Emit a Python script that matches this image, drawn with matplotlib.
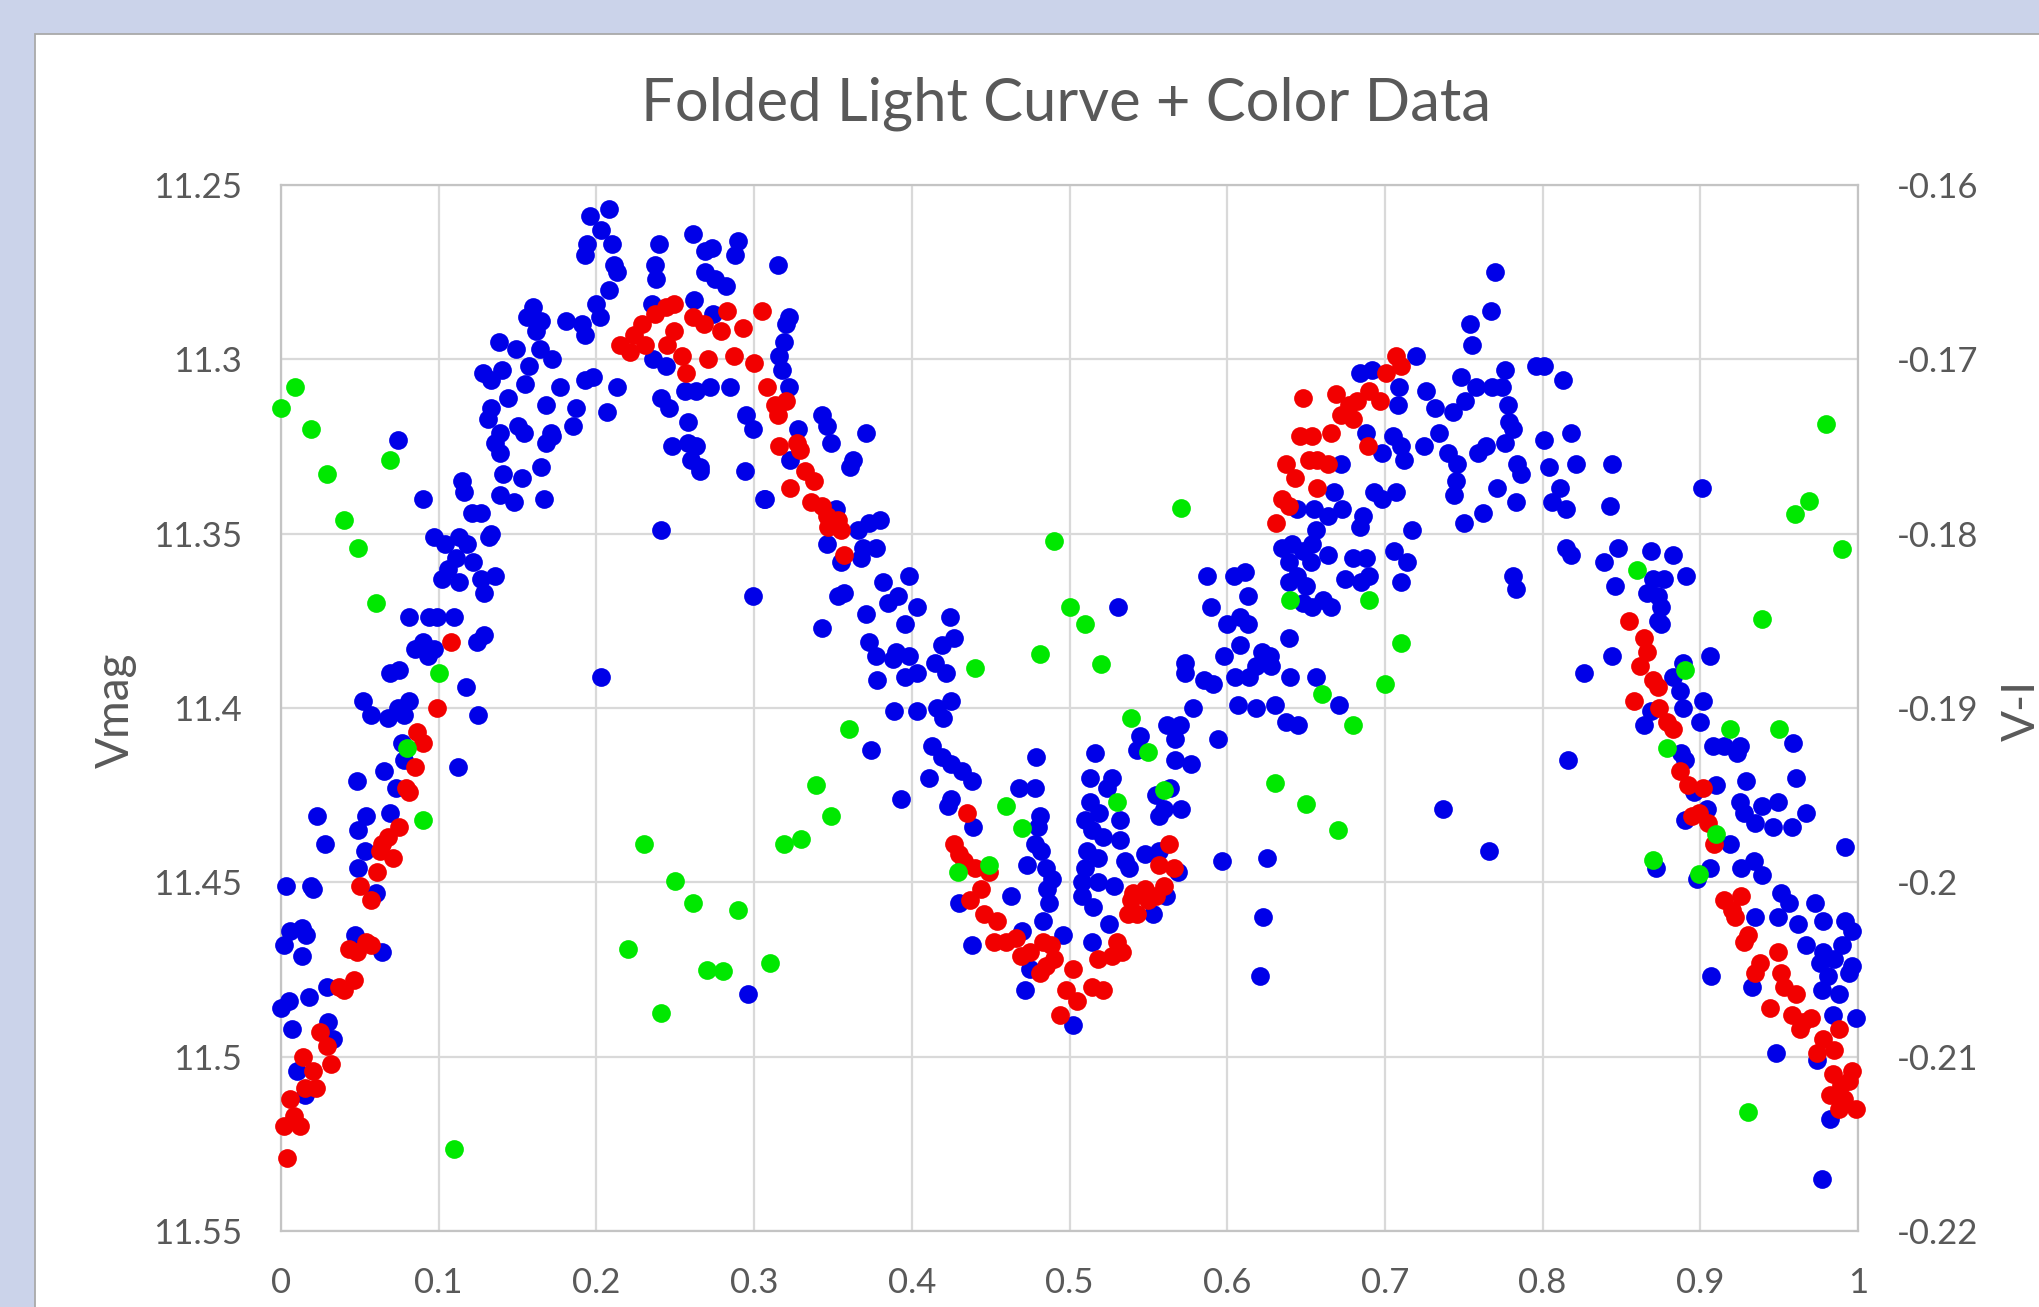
import matplotlib
matplotlib.use("Agg")
import matplotlib.pyplot as plt
from matplotlib.patches import Rectangle

# ---------------- data ----------------
title = "Folded Light Curve + Color Data"
left_label = "Vmag"
right_label = "V-I"

x_ticks = [0.0, 0.1, 0.2, 0.3, 0.4, 0.5, 0.6, 0.7, 0.8, 0.9, 1.0]
x_tick_labels = ["0", "0.1", "0.2", "0.3", "0.4", "0.5", "0.6", "0.7", "0.8", "0.9", "1"]
vmag_ticks = [11.25, 11.30, 11.35, 11.40, 11.45, 11.50, 11.55]
vmag_tick_labels = ["11.25", "11.3", "11.35", "11.4", "11.45", "11.5", "11.55"]
vi_ticks = [-0.22, -0.21, -0.20, -0.19, -0.18, -0.17, -0.16]
vi_tick_labels = ["-0.22", "-0.21", "-0.2", "-0.19", "-0.18", "-0.17", "-0.16"]

# blue series: Vmag vs phase
blue_phase = [
    0.208,0.196,0.203,0.210,0.194,0.193,0.211,0.213,0.208,0.200,
    0.202,0.181,0.191,0.193,0.160,0.156,0.165,0.162,0.164,0.172,
    0.149,0.138,0.157,0.155,0.128,0.140,0.133,0.144,0.133,0.131,
    0.150,0.154,0.139,0.136,0.139,0.168,0.177,0.187,0.185,0.172,
    0.168,0.171,0.165,0.153,0.141,0.139,0.148,0.167,0.193,0.198,
    0.213,0.207,0.240,0.237,0.238,0.235,0.261,0.269,0.273,0.269,
    0.275,0.282,0.290,0.288,0.262,0.274,0.236,0.244,0.241,0.246,
    0.256,0.263,0.272,0.258,0.258,0.263,0.248,0.260,0.266,0.266,
    0.285,0.295,0.299,0.294,0.306,0.241,0.299,0.203,0.074,0.090,
    0.115,0.116,0.121,0.127,0.133,0.132,0.097,0.104,0.113,0.118,
    0.111,0.122,0.102,0.113,0.127,0.136,0.129,0.106,0.081,0.094,
    0.099,0.110,0.090,0.085,0.093,0.097,0.124,0.129,0.069,0.075,
    0.117,
    0.052,0.057,0.068,0.074,0.078,0.081,0.125,0.077,0.078,0.112,
    0.065,0.048,0.073,0.069,0.054,0.049,0.023,0.028,0.053,0.049,
    0.060,0.003,0.019,0.020,0.006,0.013,0.016,0.002,0.013,0.047,
    0.064,0.029,0.018,0.005,0.000,0.030,0.007,0.033,0.010,0.015,
    0.296,
    0.315,0.322,0.320,0.319,0.316,0.318,0.322,0.328,0.323,0.307,
    0.343,0.346,0.349,0.371,0.361,0.363,0.352,0.346,0.355,0.366,
    0.373,0.380,0.369,0.368,0.377,0.353,0.357,0.343,0.371,0.382,
    0.398,0.391,0.385,0.403,0.396,0.373,0.377,0.390,0.398,0.388,
    0.378,0.396,0.403,0.424,0.427,0.419,0.415,0.422,0.531,0.587,
    0.604,0.611,0.613,0.590,0.608,0.613,0.600,0.608,0.598,0.622,
    0.627,0.618,0.573,0.573,0.585,0.591,0.605,0.614,0.628,0.640,
    0.639,0.656,0.635,0.641,0.648,0.654,0.656,0.653,0.639,0.644,
    0.639,0.650,0.654,0.648,0.644,0.655,
    0.389,0.403,0.416,0.420,0.425,0.374,0.413,0.419,0.425,0.432,
    0.438,0.411,0.393,0.425,0.423,0.439,0.479,0.468,0.478,0.481,
    0.480,0.478,0.482,0.473,0.485,0.489,0.486,0.487,0.483,0.470,
    0.496,0.463,0.430,0.438,0.472,0.475,0.502,0.516,0.513,0.527,
    0.524,0.513,0.519,0.532,0.510,0.514,0.521,0.532,0.511,0.518,
    0.535,0.538,0.510,0.508,0.518,0.528,0.508,0.515,0.525,0.514,
    0.548,0.557,0.569,0.553,0.561,0.545,0.543,0.562,0.570,0.567,
    0.567,0.577,0.555,0.560,0.571,0.557,0.564,0.578,0.594,0.597,
    0.607,0.618,0.630,0.637,0.645,0.625,0.623,0.621,
    0.770,0.767,0.754,0.755,0.720,0.776,0.796,0.801,0.813,0.748,
    0.758,0.768,0.774,0.726,0.684,0.692,0.709,0.708,0.732,0.743,
    0.751,0.778,0.779,0.781,0.776,0.764,0.759,0.734,0.725,0.740,
    0.746,0.745,0.744,0.688,0.698,0.705,0.710,0.712,0.784,0.786,
    0.801,0.818,0.804,0.821,0.844,0.771,0.783,0.762,0.750,0.811,
    0.806,0.815,0.843,0.901,0.672,0.668,0.673,0.664,0.693,0.698,
    0.707,0.686,0.684,0.717,0.664,0.680,0.688,0.706,0.714,0.675,
    0.685,0.690,0.710,0.661,0.666,0.781,0.783,0.815,0.818,0.839,
    0.848,0.869,0.883,0.846,0.891,0.870,0.877,0.866,0.873,0.875,
    0.873,0.875,0.844,0.826,0.906,0.889,0.883,0.887,0.902,0.671,
    0.869,0.889,
    0.816,0.737,0.766,0.864,0.900,0.888,0.890,0.908,0.915,0.925,
    0.923,0.959,0.961,0.910,0.929,0.925,0.928,0.939,0.949,0.935,
    0.946,0.958,0.967,0.896,0.904,0.890,0.919,0.906,0.926,0.934,
    0.939,0.872,0.898,0.992,0.951,0.956,0.949,0.935,0.962,0.973,
    0.978,0.967,0.992,0.996,0.990,0.978,0.976,0.985,0.981,0.994,
    0.996,0.977,0.988,0.984,0.999,0.907,0.933,0.948,0.974,0.982,
    0.977,
]
blue_vmag = [
    11.257,11.259,11.263,11.267,11.267,11.270,11.273,11.275,11.280,11.284,
    11.288,11.289,11.290,11.293,11.285,11.288,11.289,11.292,11.297,11.300,
    11.297,11.295,11.302,11.307,11.304,11.303,11.306,11.311,11.314,11.317,
    11.319,11.321,11.321,11.324,11.327,11.313,11.308,11.314,11.319,11.322,
    11.324,11.321,11.331,11.334,11.333,11.339,11.341,11.340,11.306,11.305,
    11.308,11.315,11.267,11.273,11.277,11.284,11.264,11.269,11.268,11.275,
    11.277,11.279,11.266,11.270,11.283,11.287,11.300,11.302,11.311,11.314,
    11.309,11.309,11.308,11.318,11.324,11.325,11.325,11.329,11.331,11.332,
    11.308,11.316,11.320,11.332,11.340,11.349,11.368,11.391,11.323,11.340,
    11.335,11.338,11.344,11.344,11.350,11.351,11.351,11.353,11.351,11.353,
    11.357,11.358,11.363,11.364,11.363,11.362,11.367,11.360,11.374,11.374,
    11.374,11.374,11.381,11.383,11.385,11.383,11.381,11.379,11.390,11.389,
    11.394,
    11.398,11.402,11.403,11.400,11.402,11.398,11.402,11.410,11.415,11.417,
    11.418,11.421,11.423,11.430,11.431,11.435,11.431,11.439,11.441,11.446,
    11.453,11.451,11.451,11.452,11.464,11.463,11.465,11.468,11.471,11.465,
    11.470,11.480,11.483,11.484,11.486,11.490,11.492,11.495,11.504,11.511,
    11.482,
    11.273,11.288,11.290,11.295,11.299,11.303,11.308,11.320,11.329,11.340,
    11.316,11.319,11.324,11.321,11.331,11.329,11.343,11.353,11.358,11.349,
    11.347,11.346,11.354,11.357,11.354,11.368,11.367,11.377,11.373,11.364,
    11.362,11.368,11.370,11.371,11.376,11.381,11.385,11.384,11.385,11.386,
    11.392,11.391,11.390,11.374,11.380,11.382,11.387,11.390,11.371,11.362,
    11.362,11.361,11.368,11.371,11.374,11.376,11.376,11.382,11.385,11.384,
    11.385,11.388,11.387,11.390,11.392,11.393,11.391,11.391,11.388,11.391,
    11.380,11.391,11.354,11.353,11.355,11.353,11.349,11.358,11.358,11.362,
    11.364,11.365,11.371,11.370,11.343,11.343,
    11.401,11.401,11.400,11.403,11.398,11.412,11.411,11.414,11.416,11.418,
    11.421,11.420,11.426,11.426,11.428,11.434,11.414,11.423,11.423,11.431,
    11.434,11.439,11.441,11.445,11.446,11.449,11.452,11.456,11.461,11.464,
    11.465,11.454,11.456,11.468,11.481,11.475,11.491,11.413,11.420,11.420,
    11.423,11.427,11.430,11.432,11.432,11.435,11.437,11.438,11.441,11.443,
    11.444,11.446,11.446,11.450,11.450,11.451,11.454,11.457,11.462,11.467,
    11.442,11.441,11.447,11.459,11.454,11.408,11.412,11.405,11.405,11.409,
    11.415,11.416,11.425,11.429,11.429,11.431,11.423,11.400,11.409,11.444,
    11.399,11.400,11.399,11.404,11.405,11.443,11.460,11.477,
    11.275,11.286,11.290,11.296,11.299,11.303,11.302,11.302,11.306,11.305,
    11.308,11.308,11.308,11.309,11.304,11.303,11.308,11.313,11.314,11.315,
    11.312,11.313,11.318,11.320,11.324,11.325,11.327,11.321,11.325,11.327,
    11.330,11.335,11.339,11.321,11.327,11.322,11.325,11.329,11.330,11.333,
    11.323,11.321,11.331,11.330,11.330,11.337,11.341,11.344,11.347,11.337,
    11.341,11.343,11.342,11.337,11.330,11.338,11.343,11.345,11.338,11.340,
    11.338,11.345,11.348,11.349,11.356,11.357,11.357,11.355,11.358,11.363,
    11.364,11.362,11.364,11.369,11.371,11.362,11.366,11.354,11.356,11.358,
    11.354,11.355,11.356,11.365,11.362,11.363,11.363,11.367,11.368,11.371,
    11.375,11.376,11.385,11.390,11.385,11.387,11.391,11.395,11.398,11.399,
    11.401,11.400,
    11.415,11.429,11.441,11.405,11.404,11.413,11.415,11.411,11.411,11.411,
    11.413,11.410,11.420,11.422,11.421,11.427,11.430,11.428,11.427,11.433,
    11.434,11.434,11.430,11.424,11.429,11.432,11.439,11.446,11.446,11.444,
    11.448,11.446,11.449,11.440,11.453,11.456,11.460,11.460,11.462,11.456,
    11.461,11.468,11.461,11.464,11.468,11.470,11.473,11.472,11.477,11.476,
    11.474,11.481,11.482,11.488,11.489,11.477,11.480,11.499,11.501,11.518,
    11.535,
]

# red series: Vmag vs phase
red_phase = [
    0.215,0.221,0.224,0.229,0.237,0.244,0.249,0.231,0.249,0.245,
    0.254,0.257,0.261,0.268,0.271,0.279,0.283,0.293,0.287,0.300,
    0.305,0.308,0.108,
    0.099,0.086,0.090,0.085,0.079,0.081,0.075,0.068,0.064,0.063,
    0.071,0.061,0.050,0.057,0.043,0.048,0.054,0.057,0.037,0.040,
    0.046,0.025,0.029,0.032,0.014,0.020,0.022,0.015,0.006,0.008,
    0.002,0.012,0.004,
    0.313,0.320,0.315,0.316,0.327,0.329,0.323,0.332,0.338,0.336,
    0.343,0.346,0.353,0.347,0.355,0.357,0.648,0.646,0.654,0.652,
    0.657,0.637,0.643,0.657,0.635,0.639,0.631,
    0.435,0.427,0.430,0.433,0.440,0.449,0.444,0.437,0.446,0.454,
    0.452,0.460,0.466,0.469,0.475,0.483,0.488,0.490,0.481,0.485,
    0.502,0.498,0.505,0.514,0.521,0.494,0.518,0.527,0.530,0.533,
    0.539,0.543,0.548,0.550,0.555,0.560,0.557,0.566,0.563,0.540,
    0.537,
    0.707,0.710,0.701,0.690,0.697,0.682,0.669,0.677,0.672,0.680,
    0.666,0.689,0.664,0.855,0.864,0.866,0.862,0.870,0.873,0.858,
    0.874,
    0.879,0.883,0.887,0.892,0.902,0.895,0.899,0.905,0.909,0.915,
    0.920,0.926,0.922,0.930,0.928,0.949,0.938,0.935,0.951,0.953,
    0.961,0.944,0.958,0.965,0.970,0.963,0.988,0.978,0.974,0.985,
    0.984,0.996,0.989,0.982,0.991,0.988,0.999,0.994,
]
red_vmag = [
    11.296,11.298,11.293,11.290,11.287,11.285,11.284,11.296,11.292,11.296,
    11.299,11.304,11.288,11.290,11.300,11.292,11.286,11.291,11.299,11.301,
    11.286,11.308,11.381,
    11.400,11.407,11.410,11.417,11.423,11.424,11.434,11.437,11.439,11.441,
    11.443,11.447,11.451,11.455,11.469,11.470,11.467,11.468,11.480,11.481,
    11.478,11.493,11.497,11.502,11.500,11.504,11.509,11.509,11.512,11.517,
    11.520,11.520,11.529,
    11.313,11.312,11.316,11.325,11.324,11.326,11.337,11.332,11.335,11.341,
    11.342,11.345,11.346,11.348,11.349,11.356,11.311,11.322,11.322,11.329,
    11.329,11.330,11.334,11.337,11.340,11.342,11.347,
    11.430,11.439,11.442,11.444,11.446,11.447,11.452,11.455,11.459,11.461,
    11.467,11.467,11.466,11.471,11.470,11.467,11.468,11.472,11.476,11.474,
    11.475,11.481,11.484,11.480,11.481,11.488,11.472,11.471,11.467,11.470,
    11.455,11.459,11.452,11.455,11.454,11.451,11.445,11.446,11.439,11.453,
    11.459,
    11.299,11.302,11.304,11.309,11.312,11.312,11.310,11.313,11.316,11.317,
    11.321,11.325,11.330,11.375,11.380,11.384,11.388,11.392,11.394,11.398,
    11.400,
    11.404,11.406,11.418,11.422,11.423,11.431,11.430,11.433,11.439,11.455,
    11.458,11.454,11.460,11.465,11.467,11.470,11.473,11.476,11.476,11.480,
    11.482,11.486,11.488,11.490,11.489,11.492,11.492,11.495,11.499,11.498,
    11.505,11.504,11.508,11.511,11.512,11.515,11.515,11.507,
]

# green series: V-I colour (secondary axis) vs phase
green_phase = [
    0.009,0.000,0.019,0.029,0.069,0.040,0.049,0.060,0.100,0.080,
    0.090,0.230,0.250,0.261,0.290,0.220,0.270,0.280,0.310,0.241,
    0.110,0.571,0.490,0.500,0.510,0.481,0.520,0.440,0.640,0.360,
    0.339,0.349,0.319,0.330,0.460,0.470,0.449,0.429,0.539,0.550,
    0.560,0.530,0.630,0.650,0.980,0.969,0.960,0.990,0.860,0.939,
    0.690,0.710,0.700,0.660,0.890,0.680,0.670,0.919,0.950,0.879,
    0.910,0.870,0.899,0.930,
]
green_vi = [
    -0.1716,-0.1728,-0.1740,-0.1766,-0.1758,-0.1792,-0.1808,-0.1840,-0.1880,-0.1923,
    -0.1964,-0.1978,-0.1999,-0.2012,-0.2016,-0.2038,-0.2050,-0.2051,-0.2046,-0.2075,
    -0.2153,-0.1785,-0.1804,-0.1842,-0.1852,-0.1869,-0.1875,-0.1877,-0.1838,-0.1912,
    -0.1944,-0.1962,-0.1978,-0.1975,-0.1956,-0.1969,-0.1990,-0.1994,-0.1906,-0.1925,
    -0.1947,-0.1954,-0.1943,-0.1955,-0.1737,-0.1781,-0.1789,-0.1809,-0.1821,-0.1849,
    -0.1838,-0.1863,-0.1886,-0.1892,-0.1878,-0.1910,-0.1970,-0.1912,-0.1912,-0.1923,
    -0.1972,-0.1987,-0.1995,-0.2132,
]

# ---------------- style ----------------
plt.rcParams["font.family"] = ["Lato", "DejaVu Sans"]
TEXT = "#595959"
GRID = "#d9d9d9"
FRAME = "#c4c4c4"
BLUE = "#0000e8"
RED = "#f20000"
GREEN = "#00e800"
MS = 182

W, H = 2040, 1307
fig = plt.figure(figsize=(W / 100, H / 100), dpi=100, facecolor="#cbd3ea")
card = Rectangle((35 / W, -0.05), 1.2, 1 - 34 / H + 0.05, transform=fig.transFigure,
                 facecolor="white", edgecolor="#a9a9a9", linewidth=1.3, zorder=0)
fig.add_artist(card)

L, R, T, B = 281, 1858, 185, 1231
ax = fig.add_axes([L / W, 1 - B / H, (R - L) / W, (B - T) / H])
ax.set_facecolor("white")
ax.set_xlim(0, 1)
ax.set_ylim(11.55, 11.25)
ax.set_xticks(x_ticks)
ax.set_xticklabels(x_tick_labels)
ax.set_yticks(vmag_ticks)
ax.set_yticklabels(vmag_tick_labels)
ax.grid(True, color=GRID, linewidth=1.6)
ax.set_axisbelow(True)
for s in ax.spines.values():
    s.set_color(FRAME)
    s.set_linewidth(1.6)
ax.tick_params(axis="both", length=0, labelsize=25, labelcolor=TEXT)
ax.tick_params(axis="y", pad=28)
ax.tick_params(axis="x", pad=26)

ax.scatter(blue_phase, blue_vmag, s=MS, color=BLUE, linewidths=0, zorder=3, clip_on=False)
ax.scatter(red_phase, red_vmag, s=MS, color=RED, linewidths=0, zorder=4, clip_on=False)

ax2 = ax.twinx()
ax2.set_ylim(-0.22, -0.16)
ax2.set_yticks(vi_ticks)
ax2.set_yticklabels(vi_tick_labels)
ax2.tick_params(axis="y", length=0, labelsize=25, labelcolor=TEXT, pad=28)
for s in ax2.spines.values():
    s.set_visible(False)
ax2.scatter(green_phase, green_vi, s=MS, color=GREEN, linewidths=0, zorder=5, clip_on=False)

fig.text(1066 / W, 1 - 104 / H, title, ha="center", va="center", fontsize=43, color=TEXT)
fig.text(116 / W, 1 - 710 / H, left_label, ha="center", va="center", rotation=90,
         fontsize=33, color=TEXT)
fig.text(2022 / W, 1 - 710 / H, right_label, ha="center", va="center", rotation=90,
         fontsize=33, color=TEXT)

fig.savefig("out.png", dpi=100, facecolor=fig.get_facecolor())
